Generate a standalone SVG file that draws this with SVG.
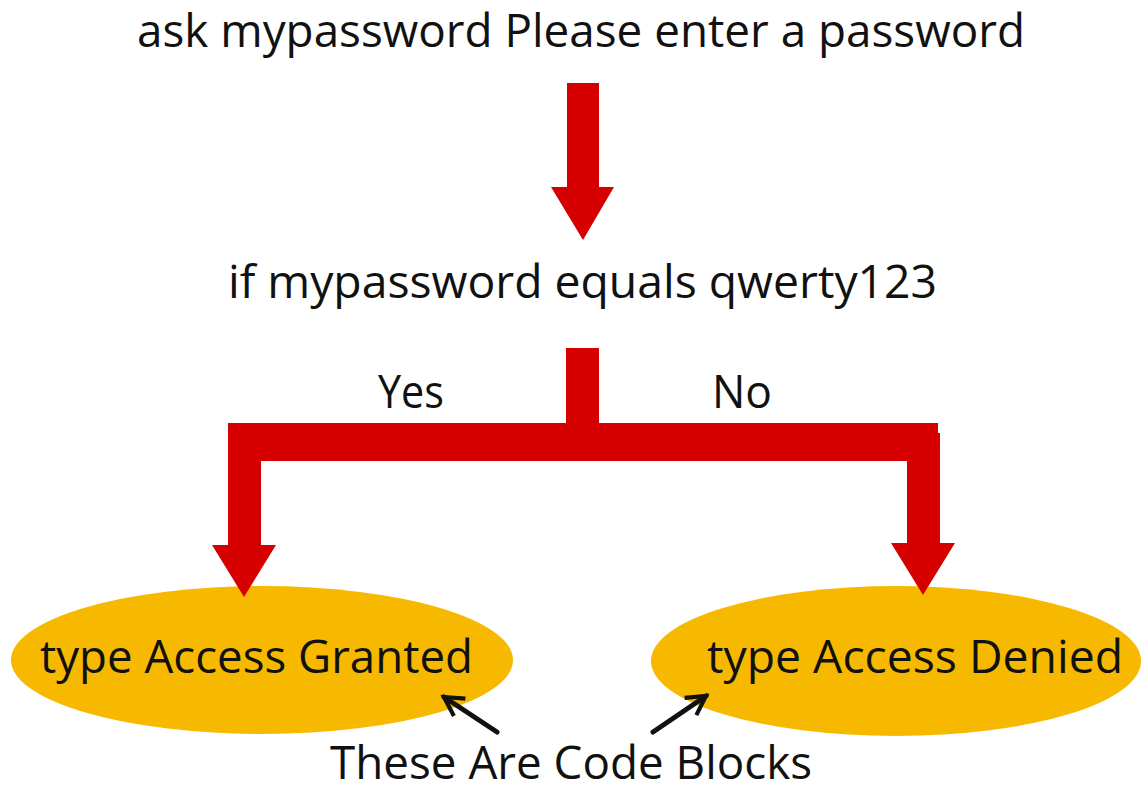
<svg xmlns="http://www.w3.org/2000/svg" width="1148" height="790" viewBox="0 0 1148 790">
  <style>
    .t { font-family: "Open Sans", "Noto Sans", "Liberation Sans", sans-serif; font-size: 45px; fill: #111; }
    .blk { fill: #F7B900; }
    .red { fill: #D60000; }
    .ptr { fill: none; stroke: #111; stroke-width: 5; stroke-linecap: round; }
  </style>
  <defs>
    <marker id="open" viewBox="0 0 12 12" refX="10" refY="6" markerWidth="5" markerHeight="5" orient="auto" markerUnits="strokeWidth">
      <path d="M1,1 L10,6 L1,11" fill="none" stroke="#111" stroke-width="2"/>
    </marker>
  </defs>
  <rect width="1148" height="790" fill="#fff"/>

  <g id="node-ask">
    <text class="t" x="137" y="47" textLength="888" lengthAdjust="spacingAndGlyphs">ask mypassword Please enter a password</text>
  </g>
  <g id="node-if">
    <text class="t" x="228" y="298" textLength="709" lengthAdjust="spacingAndGlyphs">if mypassword equals qwerty123</text>
  </g>
  <g id="node-granted">
    <ellipse class="blk" cx="262" cy="660" rx="251" ry="74"/>
    <text class="t" x="40" y="673" textLength="433" lengthAdjust="spacingAndGlyphs">type Access Granted</text>
  </g>
  <g id="node-denied">
    <ellipse class="blk" cx="896" cy="661" rx="245" ry="75"/>
    <text class="t" x="707" y="673" textLength="416" lengthAdjust="spacingAndGlyphs">type Access Denied</text>
  </g>
  <g id="node-note">
    <text class="t" x="330" y="779" font-size="44" textLength="482" lengthAdjust="spacingAndGlyphs">These Are Code Blocks</text>
  </g>

  <g id="connectors">
    <polygon class="red" points="567,83 599,83 599,187 614,187 583,240 551,187 567,187"/>
    <path class="red" d="M566,348 L599,348 L599,423 L938,423 L938,433 L940,433 L940,543 L955,543 L923,595 L891,543 L907,543 L907,461 L261,461 L261,545 L276,545 L244,597 L212,545 L228,545 L228,423 L566,423 Z"/>
    <text class="t" x="378" y="408" textLength="66" lengthAdjust="spacingAndGlyphs">Yes</text>
    <text class="t" x="712" y="408" textLength="60" lengthAdjust="spacingAndGlyphs">No</text>
    <line class="ptr" x1="497" y1="732" x2="444" y2="697" marker-end="url(#open)"/>
    <line class="ptr" x1="653" y1="732" x2="706" y2="696" marker-end="url(#open)"/>
  </g>
</svg>
